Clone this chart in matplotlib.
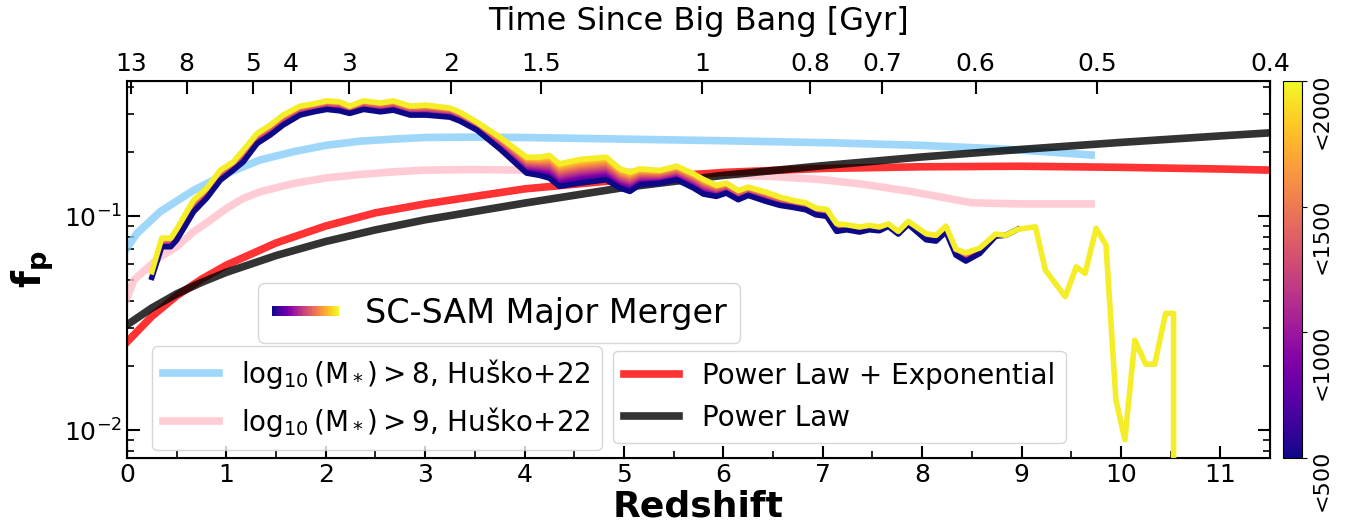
import numpy as np
import matplotlib
matplotlib.use("Agg")
import matplotlib.pyplot as plt
from matplotlib.legend_handler import HandlerBase
from matplotlib.patches import Rectangle
from matplotlib.ticker import MultipleLocator
from matplotlib.colors import Normalize
from matplotlib.cm import ScalarMappable

# SC-SAM major merger pair fraction (upper edge: <2000, lower edge: <500)
z_sam = [0.25, 0.35, 0.44, 0.50, 0.67, 0.80, 0.94, 1.07, 1.17, 1.31, 1.44, 1.57, 1.74, 1.88,
         2.01, 2.14, 2.24, 2.38, 2.55, 2.68, 2.85, 3.01, 3.25, 3.35, 3.52, 3.75, 4.02, 4.15,
         4.25, 4.35, 4.56, 4.82, 4.96, 5.06, 5.16, 5.36, 5.53, 5.70, 5.80, 5.93, 6.03, 6.15,
         6.25, 6.43, 6.57, 6.70, 6.83, 6.93, 7.04, 7.14, 7.24, 7.37, 7.47, 7.57, 7.66, 7.76,
         7.86, 8.04, 8.14, 8.24, 8.34, 8.44, 8.58, 8.74, 8.84, 8.96, 9.14, 9.24, 9.44, 9.55,
         9.64, 9.75, 9.85, 9.95, 10.04, 10.14, 10.25, 10.34, 10.45, 10.53, 10.63]
sam_2000 = [0.0549, 0.0789, 0.0789, 0.0870, 0.1188, 0.1347, 0.1641, 0.1793, 0.2034, 0.2435,
            0.2662, 0.2965, 0.3266, 0.335, 0.3457, 0.342, 0.3266, 0.3457, 0.338, 0.3457,
            0.3266, 0.3302, 0.320, 0.306, 0.275, 0.234, 0.1886, 0.1886, 0.1921, 0.1755,
            0.1841, 0.1886, 0.1663, 0.1606, 0.1663, 0.1636, 0.1712, 0.1577, 0.1484, 0.1392,
            0.1426, 0.1318, 0.1366, 0.1294, 0.1227, 0.1184, 0.1154, 0.1090, 0.1075, 0.0920,
            0.0911, 0.0889, 0.0905, 0.0889, 0.0920, 0.0848, 0.0945, 0.0827, 0.0813, 0.0898,
            0.0699, 0.0674, 0.0709, 0.0824, 0.0813, 0.0867, 0.0891, 0.0559, 0.0420, 0.0579,
            0.0540, 0.0876, 0.0732, 0.0138, 0.0090, 0.0263, 0.0203, 0.0203, 0.0351, 0.0351, 0.0]
sam_500 = [0.0517, 0.0719, 0.0719, 0.0772, 0.1047, 0.1210, 0.1473, 0.1641, 0.1793, 0.2186,
           0.2391, 0.2662, 0.2965, 0.3072, 0.3152, 0.3105, 0.3019, 0.3152, 0.3072, 0.3128,
           0.2965, 0.2965, 0.290, 0.278, 0.2523, 0.2063, 0.1588, 0.155, 0.1505, 0.1377,
           0.1426, 0.1478, 0.1352, 0.1304, 0.1401, 0.1426, 0.1478, 0.1352, 0.1267, 0.1236,
           0.1281, 0.1192, 0.1249, 0.1171, 0.1122, 0.1098, 0.1070, 0.1014, 0.0997, 0.0848,
           0.0863, 0.0842, 0.0863, 0.0854, 0.0895, 0.0824, 0.0915, 0.0775, 0.0764, 0.0845,
           0.0657, 0.0616, 0.0669, 0.0806, 0.0813, 0.0867]

# Husko+22
z_m8 = [0, 0.1, 0.335, 0.67, 1.0, 1.34, 1.675, 2.01, 2.345, 2.68, 3.0, 3.5, 4.0, 5.0, 6.0,
        7.1, 8.0, 8.8, 9.3, 9.7]
f_m8 = [0.071, 0.083, 0.105, 0.132, 0.158, 0.183, 0.200, 0.2145, 0.224, 0.229, 0.233, 0.234,
        0.233, 0.229, 0.225, 0.220, 0.214, 0.206, 0.199, 0.193]
z_m9 = [0, 0.07, 0.2, 0.335, 0.5, 0.67, 0.84, 1.0, 1.17, 1.34, 1.675, 2.01, 2.345, 2.68, 3.0,
        3.5, 4.0, 5.0, 6.0, 6.5, 7.0, 7.4, 7.9, 8.5, 9.0, 9.7]
f_m9 = [0.0414, 0.0503, 0.057, 0.0645, 0.0719, 0.0845, 0.0958, 0.1086, 0.121, 0.130, 0.142,
        0.151, 0.1565, 0.161, 0.164, 0.165, 0.164, 0.161, 0.156, 0.153, 0.148, 0.141, 0.130,
        0.1154, 0.114, 0.114]

# fits
z_fit = [0, 0.25, 0.5, 0.75, 1, 1.5, 2, 2.5, 3, 4, 5, 6, 7, 8, 9, 10, 11, 11.5]
f_plexp = [0.0258, 0.034, 0.0424, 0.0507, 0.059, 0.0749, 0.0899, 0.1036, 0.114, 0.134, 0.148,
           0.160, 0.167, 0.170, 0.171, 0.169, 0.166, 0.164]
f_pl = [0.031, 0.0372, 0.0433, 0.049, 0.0546, 0.0654, 0.0761, 0.0862, 0.0961, 0.115, 0.136,
        0.155, 0.172, 0.189, 0.205, 0.221, 0.237, 0.245]

# top axis: age of the universe
time_labels = ['13', '8', '5', '4', '3', '2', '1.5', '1', '0.8', '0.7', '0.6', '0.5', '0.4']
time_z = [0.04, 0.60, 1.27, 1.65, 2.23, 3.26, 4.17, 5.79, 6.87, 7.60, 8.54, 9.76, 11.5]

cbar_ticks = [500, 1000, 1500, 2000]
cbar_labels = ['<500', '<1000', '<1500', '<2000']

cmap = plt.get_cmap('plasma')


class GradientHandler(HandlerBase):
    def create_artists(self, legend, orig_handle, xdescent, ydescent, width, height,
                       fontsize, trans):
        n = 40
        cols = cmap(np.linspace(0, 1, n))
        h = height * 0.4
        y0 = -ydescent + height / 2 - h / 2
        out = []
        for i in range(n):
            r = Rectangle((-xdescent + i * width / n, y0), width / n * 1.05, h,
                          facecolor=cols[i], edgecolor='none', transform=trans)
            out.append(r)
        return out


class GradKey:
    pass


fig = plt.figure(figsize=(13.54, 5.25), dpi=100)
ax = fig.add_axes([127 / 1354, 1 - 458 / 525, 1143 / 1354, 377 / 525])
cax = fig.add_axes([1283 / 1354, 1 - 458 / 525, 19 / 1354, 377 / 525])

l_m8, = ax.plot(z_m8, f_m8, color='lightskyblue', alpha=0.8, lw=5.5,
                label=r'$\log_{10}(\mathrm{M}_*) > 8$, Huško+22')
l_m9, = ax.plot(z_m9, f_m9, color='pink', alpha=0.8, lw=5.5,
                label=r'$\log_{10}(\mathrm{M}_*) > 9$, Huško+22')
l_pe, = ax.plot(z_fit, f_plexp, color='red', alpha=0.8, lw=5.5, label='Power Law + Exponential')
l_pl, = ax.plot(z_fit, f_pl, color='black', alpha=0.8, lw=5.5, label='Power Law')

# SC-SAM band: gradient fill between the <500 and <2000 curves
n_lo = len(sam_500)
zz = np.array(z_sam[:n_lo])
lo = np.log10(sam_500)
hi = np.log10(sam_2000[:n_lo])
nrow = 24
frac = np.linspace(0, 1, nrow)[:, None]
Y = 10 ** (lo[None, :] + frac * (hi - lo)[None, :])
X = np.repeat(zz[None, :], nrow, axis=0)
C = np.repeat(frac, len(zz), axis=1)
ax.pcolormesh(X, Y, C, cmap=cmap, vmin=0, vmax=1, shading='gouraud', zorder=3)
ax.plot(z_sam[:n_lo], sam_500, color=cmap(0.0), lw=4, zorder=3)
ax.plot(z_sam, sam_2000, color=cmap(0.97), lw=4, zorder=4)

ax.set_yscale('log')
ax.set_xlim(0, 11.5)
ax.set_ylim(0.0074, 0.428)
ax.xaxis.set_major_locator(MultipleLocator(1))
ax.xaxis.set_minor_locator(MultipleLocator(0.5))
ax.tick_params(which='both', direction='in', top=False, right=True, labelsize=18)
ax.tick_params(which='major', length=9, width=1.5)
ax.tick_params(which='minor', length=5, width=1.2)
for s in ax.spines.values():
    s.set_linewidth(1.5)
ax.set_xlabel('Redshift', fontsize=26, fontweight='bold', labelpad=2)
ax.set_ylabel(r'$\mathbf{f_p}$', fontsize=28, labelpad=6)

ax2 = ax.twiny()
ax2.set_xlim(ax.get_xlim())
ax2.set_xticks(time_z)
ax2.set_xticklabels(time_labels)
ax2.tick_params(direction='in', length=9, width=1.5, labelsize=18)
ax2.set_xlabel('Time Since Big Bang [Gyr]', fontsize=23, labelpad=16)

leg1 = ax.legend([GradKey()], ['SC-SAM Major Merger'], handler_map={GradKey: GradientHandler()},
                 loc='lower left', bbox_to_anchor=(0.115, 0.305), borderaxespad=0, fontsize=24)
ax.add_artist(leg1)
leg2 = ax.legend([l_m8, l_m9], [l_m8.get_label(), l_m9.get_label()], loc='lower left',
                 bbox_to_anchor=(0.022, 0.021), borderaxespad=0, fontsize=20)
ax.add_artist(leg2)
ax.legend([l_pe, l_pl], [l_pe.get_label(), l_pl.get_label()], loc='lower left',
          bbox_to_anchor=(0.425, 0.04), borderaxespad=0, fontsize=20)

sm = ScalarMappable(norm=Normalize(500, 2000), cmap=cmap)
cbar = fig.colorbar(sm, cax=cax)
cbar.set_ticks(cbar_ticks)
cbar.ax.set_yticklabels(cbar_labels, rotation=90, fontsize=16)

fig.savefig('out.png', dpi=100)
